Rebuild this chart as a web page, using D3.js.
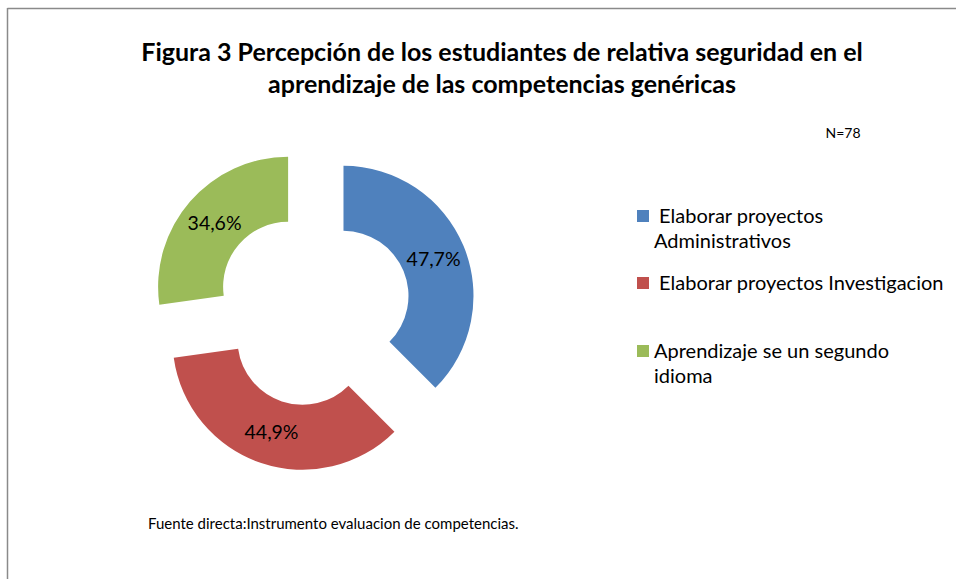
<!DOCTYPE html>
<html>
<head>
<meta charset="utf-8">
<script src="https://cdn.jsdelivr.net/npm/d3@7"></script>
<style>
  html, body { margin: 0; padding: 0; background: #fff; }
  svg { display: block; font-family: Lato, "Open Sans", sans-serif; }
</style>
</head>
<body>
<svg id="chart" width="956" height="579"></svg>
<script>
const W = 956;
const H = 579;

// data
const categories = [
  "Elaborar proyectos Administrativos",
  "Elaborar proyectos Investigacion",
  "Aprendizaje se un segundo idioma",
];
const values = [47.7, 44.9, 34.6];
const labels = ["47,7%", "44,9%", "34,6%"];
const colors = ["#4F81BD", "#C0504D", "#9BBB59"];
const legendLines = [
  [" Elaborar proyectos", "Administrativos"],
  [" Elaborar proyectos Investigacion"],
  ["Aprendizaje se un segundo", "idioma"],
];
const titleLines = [
  "Figura 3 Percepción de los estudiantes de relativa seguridad en el",
  "aprendizaje de las competencias genéricas",
];

const svg = d3.select("#chart");

// outer frame (only top and left edges show in the crop)
svg.append("line")
  .attr("x1", 7.5).attr("y1", 8.5).attr("x2", W).attr("y2", 8.5)
  .attr("stroke", "#8a8a8a").attr("stroke-width", 1.5);
svg.append("line")
  .attr("x1", 7.5).attr("y1", 8).attr("x2", 7.5).attr("y2", H)
  .attr("stroke", "#8a8a8a").attr("stroke-width", 1.5);

// title
svg.append("g")
  .selectAll("text")
  .data(titleLines)
  .join("text")
  .attr("x", 502)
  .attr("y", (d, i) => 61 + i * 32)
  .attr("text-anchor", "middle")
  .attr("font-weight", "bold")
  .attr("font-size", 25)
  .attr("fill", "#000")
  .text((d) => d);

svg.append("text")
  .attr("x", 843).attr("y", 138)
  .attr("text-anchor", "middle")
  .attr("font-size", 14)
  .text("N=78");

// exploded doughnut
const cx = 313, cy = 308.5;
const R = 130, r = 65, explode = 33;

const pie = d3.pie().sort(null).value((d) => d)(values);
const arc = d3.arc().innerRadius(r).outerRadius(R);
const labelArc = d3.arc().innerRadius((R + r) / 2).outerRadius((R + r) / 2);

const slices = svg.append("g")
  .attr("transform", `translate(${cx},${cy})`)
  .selectAll("g")
  .data(pie)
  .join("g")
  .attr("transform", (d) => {
    const a = (d.startAngle + d.endAngle) / 2;
    return `translate(${Math.sin(a) * explode},${-Math.cos(a) * explode})`;
  });

slices.append("path")
  .attr("d", arc)
  .attr("fill", (d, i) => colors[i]);

slices.append("text")
  .attr("transform", (d) => `translate(${labelArc.centroid(d)})`)
  .attr("text-anchor", "middle")
  .attr("dy", "0.36em")
  .attr("font-size", 19.5)
  .attr("fill", "#000")
  .text((d, i) => labels[i]);

// legend
const legendY = [216, 283, 351];
const legend = svg.append("g")
  .selectAll("g")
  .data(categories)
  .join("g")
  .attr("transform", (d, i) => `translate(637,${legendY[i]})`);

legend.append("rect")
  .attr("x", 0).attr("y", -6)
  .attr("width", 12).attr("height", 12)
  .attr("fill", (d, i) => colors[i]);

legend.each(function (d, i) {
  d3.select(this)
    .selectAll("text")
    .data(legendLines[i])
    .join("text")
    .attr("x", 17)
    .attr("y", (t, j) => j * 25)
    .attr("dy", "0.36em")
    .attr("font-size", 20)
    .attr("xml:space", "preserve")
    .style("white-space", "pre")
    .text((t) => t);
});

// source note
svg.append("text")
  .attr("x", 148).attr("y", 529)
  .attr("font-size", 15)
  .text("Fuente directa:Instrumento evaluacion de competencias.");
</script>
</body>
</html>
